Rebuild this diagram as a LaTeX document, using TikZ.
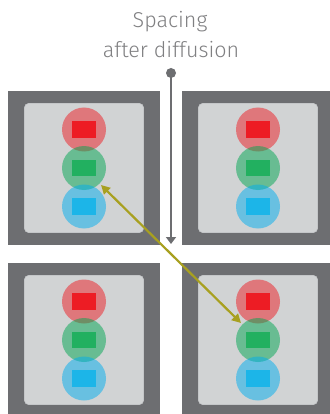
\documentclass[tikz,border=0pt]{standalone}
\usepackage{fontspec}
\setmainfont{Fira Sans Light}
\usetikzlibrary{arrows.meta}

\definecolor{frame}{RGB}{109,110,113}
\definecolor{pane}{RGB}{209,211,212}
\definecolor{paneedge}{RGB}{196,198,200}
\definecolor{redc}{RGB}{237,28,36}
\definecolor{greenc}{RGB}{0,166,81}
\definecolor{bluec}{RGB}{0,174,239}
\definecolor{redr}{RGB}{237,28,36}
\definecolor{greenr}{RGB}{34,176,96}
\definecolor{bluer}{RGB}{28,181,232}
\definecolor{olive}{RGB}{168,160,32}
\definecolor{caption}{RGB}{128,128,130}

% one cell: dark frame, light pane, three overlapping discs with chips
\newcommand\cellpanel[3]{%
  \node[framebox] (#1) at (#2,#3) {};
  \node[panebox] (#1-p) at (#2,#3) {};
  \node[disc=redc]   (#1-r) at (#2,#3-38.5) {};
  \node[disc=greenc] (#1-g) at (#2,#3) {};
  \node[disc=bluec]  (#1-b) at (#2,#3+38.5) {};
  \node[chip=redr]   (#1-rc) at (#1-r) {};
  \node[chip=greenr] (#1-gc) at (#1-g) {};
  \node[chip=bluer]  (#1-bc) at (#1-b) {};
}

\begin{document}
\begin{tikzpicture}[x=1pt,y=-1pt,
  framebox/.style={rectangle,fill=frame,draw=none,minimum width=152pt,
    minimum height=154pt,inner sep=0pt,outer sep=0pt},
  panebox/.style={rectangle,fill=pane,draw=paneedge,line width=0.6pt,
    rounded corners=4pt,minimum width=119pt,minimum height=129pt,inner sep=0pt},
  disc/.style={circle,minimum size=44pt,inner sep=0pt,outer sep=0pt,
    fill=#1,fill opacity=0.5},
  chip/.style={rectangle,minimum width=24pt,minimum height=16.5pt,
    inner sep=0pt,fill=#1},
  caption/.style={anchor=base,text=caption,inner sep=0pt,
    font=\fontsize{21.5}{30}\selectfont},
  gaparrow/.style={frame,line width=2pt,-{Triangle[width=10pt,length=7pt]}},
  swaparrow/.style={olive,line width=2.2pt,
    {Triangle[width=9pt,length=9pt]}-{Triangle[width=9pt,length=9pt]},
    shorten <=2pt,shorten >=2pt}]

\useasboundingbox (0,0) rectangle (329,414);
\fill[white] (0,0) rectangle (329,414);

\cellpanel{tl}{84}{168}
\cellpanel{tr}{258}{168}
\cellpanel{bl}{84}{340}
\cellpanel{br}{258}{340}

% caption and spacing marker
\node[caption] (title1) at (170,27.3) {Spacing};
\node[caption] (title2) at (171,57.3) {after diffusion};
\node[circle,fill=frame,minimum size=10pt,inner sep=0pt] (dot) at (171,73) {};
\coordinate (gapend) at (171,244);
\draw[gaparrow] (dot.center) -- (gapend);

% exchange between cells
\draw[swaparrow] (tl-g.-45) -- (br-g.135);
\end{tikzpicture}
\end{document}
